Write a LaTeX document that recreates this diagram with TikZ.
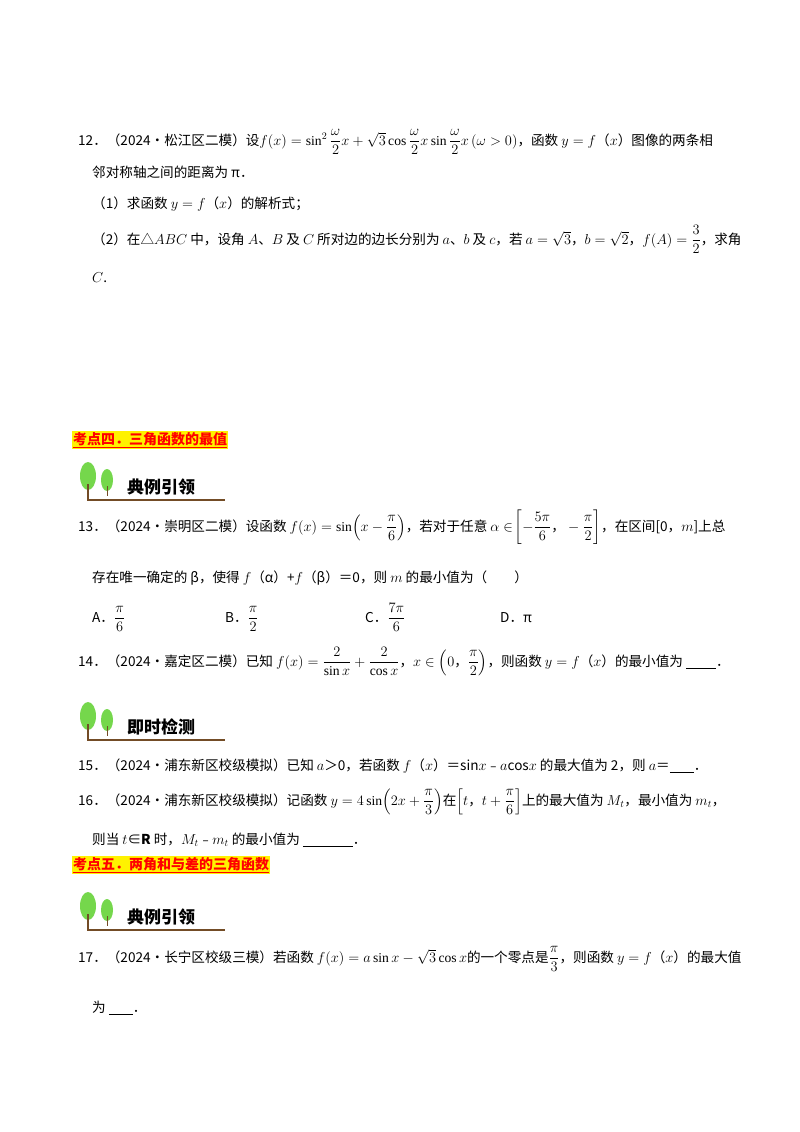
\documentclass[tikz,border=0pt]{standalone}
\usepackage{fontspec}
\usepackage{amsmath}
\setmainfont{Liberation Serif}
\newfontfamily\cjk{Noto Sans CJK SC}
\newcommand\zc{\mbox{\cjk ，}}
\begin{document}
\begin{tikzpicture}[x=1pt,y=-1pt,
  tx/.style={anchor=base west,inner sep=0pt,font=\fontsize{13.6}{16}\selectfont\cjk},
  kd/.style={anchor=base west,inner sep=1pt,font=\fontsize{14}{16}\selectfont\cjk\bfseries,text=red,fill=yellow},
  leaf/.style={fill=green!55!olive!70,draw=none}]
\useasboundingbox[fill=white] (0,0) rectangle (800,1132);
\newcommand\banner[3]{%
 \fill[leaf] (#1+13,#2+16) ellipse (8 and 14);
 \fill[leaf] (#1+32,#2+20) ellipse (6 and 11);
 \draw[brown!60!black,line width=1.2pt] (#1+13,#2+24)--(#1+13,#2+40)--(#1+150,#2+40);
 \draw[brown!60!black,line width=1pt] (#1+32,#2+26)--(#1+32,#2+36);
 \node[anchor=base west,inner sep=0pt,font=\fontsize{17}{19}\selectfont\cjk\bfseries] at (#1+52,#2+33) {#3};}
\node[tx] (l1) at (78,145) {12．（2024•松江区二模）设$f(x)=\sin^2\dfrac{\omega}{2}x+\sqrt3\cos\dfrac{\omega}{2}x\sin\dfrac{\omega}{2}x\,(\omega>0)$，函数 $y=f$（$x$）图像的两条相};
\node[tx] (l2) at (92,177) {邻对称轴之间的距离为 π．};
\node[tx] (l3) at (92,208) {（1）求函数 $y=f$（$x$）的解析式；};
\node[tx] (l4) at (92,244) {（2）在△$ABC$ 中，设角 $A$、$B$ 及 $C$ 所对边的边长分别为 $a$、$b$ 及 $c$，若 $a=\sqrt3$，$b=\sqrt2$，$f(A)=\dfrac32$，求角};
\node[tx] (l5) at (92,282) {$C$.};
\node[kd] (k4) at (72,444) {\underline{考点四．三角函数的最值}};
\banner{75}{460}{典例引领}
\node[tx] (l13) at (78,531) {13．（2024•崇明区二模）设函数 $f(x)=\sin\!\left(x-\dfrac{\pi}{6}\right)$，若对于任意 $\alpha\in\!\left[-\dfrac{5\pi}{6}\zc-\dfrac{\pi}{2}\right]$，在区间[0，$m$]上总};
\node[tx] (l13b) at (92,582) {存在唯一确定的 β，使得 $f$（α）+$f$（β）＝0，则 $m$ 的最小值为（\quad\quad）};
\node[tx] (oa) at (92,622) {A．$\dfrac{\pi}{6}$};
\node[tx] (ob) at (225,622) {B．$\dfrac{\pi}{2}$};
\node[tx] (oc) at (365,622) {C．$\dfrac{7\pi}{6}$};
\node[tx] (od) at (500,622) {D．π};
\node[tx] (l14) at (78,666) {14．（2024•嘉定区二模）已知 $f(x)=\dfrac{2}{\sin x}+\dfrac{2}{\cos x}$，$x\in\left(0\zc\dfrac{\pi}{2}\right)$，则函数 $y=f$（$x$）的最小值为 \underline{\hspace{30pt}}．};
\banner{75}{700}{即时检测}
\node[tx] (l15) at (78,770) {15．（2024•浦东新区校级模拟）已知 $a$＞0，若函数 $f$（$x$）＝sin$x$﹣$a$cos$x$ 的最大值为 2，则 $a$＝\underline{\hspace{24pt}}．};
\node[tx] (l16) at (78,805) {16．（2024•浦东新区校级模拟）记函数 $y=4\sin\!\left(2x+\dfrac{\pi}{3}\right)$在$\left[t\zc t+\dfrac{\pi}{6}\right]$上的最大值为 $M_t$，最小值为 $m_t$，};
\node[tx] (l16b) at (92,844) {则当 $t$∈\textbf{R} 时，$M_t$﹣$m_t$ 的最小值为 \underline{\hspace{50pt}}．};
\node[kd] (k5) at (72,869) {\underline{考点五．两角和与差的三角函数}};
\banner{75}{890}{典例引领}
\node[tx] (l17) at (78,962) {17．（2024•长宁区校级三模）若函数 $f(x)=a\sin x-\sqrt3\cos x$的一个零点是$\dfrac{\pi}{3}$，则函数 $y=f$（$x$）的最大值};
\node[tx] (l17b) at (92,1012) {为 \underline{\hspace{24pt}}．};
\end{tikzpicture}
\end{document}
